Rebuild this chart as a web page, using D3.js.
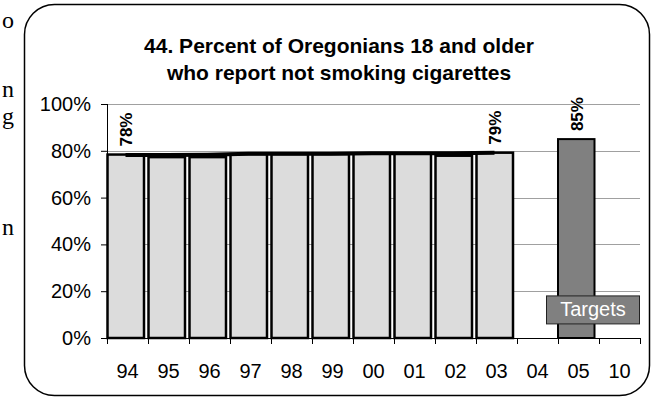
<!DOCTYPE html>
<html>
<head>
<meta charset="utf-8">
<script src="https://cdn.jsdelivr.net/npm/d3@7"></script>
<style>
  body { margin: 0; background: #fff; }
  svg { display: block; }
</style>
</head>
<body>
<div id="chart"></div>
<script>
// Data
const years = ["94", "95", "96", "97", "98", "99", "00", "01", "02", "03", "04", "05", "10"];
const observedYears = ["94", "95", "96", "97", "98", "99", "00", "01", "02", "03"];
const observedValues = [78.4, 77.3, 77.3, 78.6, 78.6, 78.6, 78.9, 78.9, 77.9, 79.2];
const trendValues = [78.2, 78.2, 78.3, 78.7, 78.7, 78.7, 78.9, 78.9, 78.9, 79.2];
const targetYears = ["05"];
const targetValues = [85];
const labeledYears = ["94", "03", "05"];
const yTicks = [0, 20, 40, 60, 80, 100];
const titleLines = ["44. Percent of Oregonians 18 and older", "who report not smoking cigarettes"];
const legendLabel = "Targets";
// ends of the page text left of the chart
const sideText = [{ t: "o", y: 28 }, { t: "n", y: 97 }, { t: "g", y: 124 }, { t: "n", y: 235 }];

const width = 654, height = 398;
const margin = { top: 104, right: 14, bottom: 60, left: 107 };
const plotW = width - margin.left - margin.right;
const plotH = height - margin.top - margin.bottom;

const svg = d3.select("#chart").append("svg")
    .attr("width", width)
    .attr("height", height)
    .style("font-family", "'Liberation Sans', Arial, sans-serif");

// page text fragments
svg.selectAll(".side")
    .data(sideText)
    .enter()
    .append("text")
    .attr("x", 14)
    .attr("y", d => d.y)
    .attr("text-anchor", "end")
    .style("font-family", "'Liberation Serif', 'Times New Roman', serif")
    .style("font-size", "24px")
    .text(d => d.t);

// chart frame
svg.append("rect")
    .attr("x", 24.5).attr("y", 4.5)
    .attr("width", 625).attr("height", 391)
    .attr("rx", 30).attr("ry", 30)
    .attr("fill", "none")
    .attr("stroke", "#000")
    .attr("stroke-width", 1.5);

// title
svg.append("text")
    .attr("text-anchor", "middle")
    .style("font-weight", "bold")
    .style("font-size", "21px")
    .selectAll("tspan")
    .data(titleLines)
    .enter()
    .append("tspan")
    .attr("x", 339)
    .attr("y", (d, i) => 53 + i * 27)
    .text(d => d);

const g = svg.append("g").attr("transform", `translate(${margin.left},${margin.top})`);

const x = d3.scaleBand().domain(years).range([0, plotW]).padding(0);
const y = d3.scaleLinear().domain([0, 100]).range([plotH, 0]);
const bw = x.bandwidth();

// gridlines
g.selectAll(".grid")
    .data(yTicks.filter(d => d > 0))
    .enter()
    .append("line")
    .attr("x1", 0).attr("x2", plotW)
    .attr("y1", d => Math.round(y(d)) + 0.5)
    .attr("y2", d => Math.round(y(d)) + 0.5)
    .attr("stroke", "#a0a0a0")
    .attr("stroke-width", 1);

// observed bars
const observed = observedYears.map((yr, i) => ({ yr, v: observedValues[i] }));
g.selectAll(".bar")
    .data(observed)
    .enter()
    .append("rect")
    .attr("x", d => x(d.yr) + 0.5)
    .attr("y", d => y(d.v))
    .attr("width", bw - 4.5)
    .attr("height", d => plotH - y(d.v))
    .attr("fill", "#dcdcdc")
    .attr("stroke", "#000")
    .attr("stroke-width", 2.5);

// target bars
const targets = targetYears.map((yr, i) => ({ yr, v: targetValues[i] }));
g.selectAll(".target")
    .data(targets)
    .enter()
    .append("rect")
    .attr("x", d => x(d.yr))
    .attr("y", d => y(d.v))
    .attr("width", bw - 4.5)
    .attr("height", d => plotH - y(d.v))
    .attr("fill", "#808080")
    .attr("stroke", "#000")
    .attr("stroke-width", 2);

// trend line
const trend = observedYears.map((yr, i) => ({ yr, v: trendValues[i] }));
g.append("path")
    .datum(trend)
    .attr("fill", "none")
    .attr("stroke", "#000")
    .attr("stroke-width", 4)
    .attr("d", d3.line()
        .x(d => x(d.yr) + (bw - 4) / 2)
        .y(d => y(d.v)));

// value labels
const allBars = observed.concat(targets);
g.selectAll(".vlabel")
    .data(allBars.filter(d => labeledYears.includes(d.yr)))
    .enter()
    .append("text")
    .attr("transform", d => `translate(${x(d.yr) + (bw - 4) / 2 + 6},${y(d.v) - 8}) rotate(-90)`)
    .style("font-weight", "bold")
    .style("font-size", "17px")
    .text(d => d3.format(".0f")(d.v) + "%");

// y axis
const yAxis = g.append("g")
    .call(d3.axisLeft(y).tickValues(yTicks).tickFormat(d => d + "%").tickSize(6).tickPadding(10));
yAxis.selectAll("text").style("font-size", "20px").attr("fill", "#000");
yAxis.selectAll("line, path").attr("stroke", "#000");
yAxis.select(".domain").attr("d", `M0.5,0V${plotH}`);

// x axis: ticks sit between categories
const xAxis = g.append("g").attr("transform", `translate(0,${plotH})`);
xAxis.append("line")
    .attr("x1", 0).attr("x2", plotW)
    .attr("y1", 0.5).attr("y2", 0.5)
    .attr("stroke", "#000");
xAxis.selectAll(".xtick")
    .data(years.concat(["end"]))
    .enter()
    .append("line")
    .attr("x1", (d, i) => Math.round(i * bw) + 0.5)
    .attr("x2", (d, i) => Math.round(i * bw) + 0.5)
    .attr("y1", 0).attr("y2", 6)
    .attr("stroke", "#000");
xAxis.selectAll(".xlabel")
    .data(years)
    .enter()
    .append("text")
    .attr("x", d => x(d) + bw / 2)
    .attr("y", 40)
    .attr("text-anchor", "middle")
    .style("font-size", "20px")
    .text(d => d);

// legend
const legend = g.append("g").attr("transform", `translate(${plotW - 94},${y(18.2)})`);
legend.append("rect")
    .attr("x", 0.5).attr("y", 0.5)
    .attr("width", 93).attr("height", 28)
    .attr("fill", "#808080")
    .attr("stroke", "#222");
legend.append("text")
    .attr("x", 47).attr("y", 21)
    .attr("text-anchor", "middle")
    .attr("fill", "#fff")
    .style("font-size", "20px")
    .text(legendLabel);
</script>
</body>
</html>
